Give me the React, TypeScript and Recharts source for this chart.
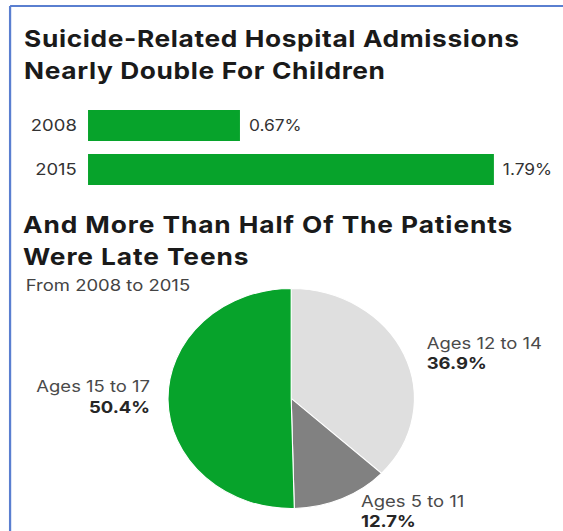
import React from 'react';
import { BarChart, Bar, XAxis, YAxis, LabelList, PieChart, Pie, Cell } from 'recharts';

const years = ['2008', '2015'];
const admissionRates = [0.67, 1.79];

const ageGroups = ['Ages 12 to 14', 'Ages 5 to 11', 'Ages 15 to 17'];
const ageShares = [36.9, 12.7, 50.4];
const ageColors = ['#dfdfdf', '#818181', '#07a32b'];

const FONT = 'Inter, "Open Sans", sans-serif';
const GREEN = '#07a32b';
// the original graphic is stretched horizontally, so everything is drawn narrower and scaled in x
const STRETCH = 1.12;
const W = 563 / STRETCH;

const barData = years.map((year, i) => ({ year, rate: admissionRates[i] }));
const pieData = ageGroups.map((name, i) => ({ name, value: ageShares[i] }));

const RADIAN = Math.PI / 180;
// small hand nudges so the labels sit where the original put them
const labelNudge: Record<string, { dx: number; dy: number }> = {
  'Ages 12 to 14': { dx: 0, dy: 3 },
  'Ages 5 to 11': { dx: 8, dy: -12 },
  'Ages 15 to 17': { dx: 6, dy: -8 },
};

const renderPieLabel = (props: any) => {
  const { cx, cy, midAngle, outerRadius, name, value } = props;
  const r = outerRadius + 22;
  const nudge = labelNudge[name] || { dx: 0, dy: 0 };
  const x = cx + r * Math.cos(-midAngle * RADIAN) + nudge.dx;
  const y = cy + r * Math.sin(-midAngle * RADIAN) + nudge.dy;
  const anchor = x > cx + 5 ? 'start' : 'end';
  return (
    <text x={x} y={y} textAnchor={anchor} fontFamily={FONT} fontSize={16.5}>
      <tspan x={x} dy={0} fill="#4a4a4a">{name}</tspan>
      <tspan x={x} dy={20.5} fill="#262626" fontWeight={700}>{value}%</tspan>
    </text>
  );
};

export default function App() {
  return (
    <div style={{ position: 'absolute', left: 0, top: 0, width: 563, height: 531, background: '#fff', overflow: 'hidden' }}>
      <div
        style={{
          position: 'absolute',
          left: 0,
          top: 0,
          width: W,
          height: 531,
          transform: `scaleX(${STRETCH})`,
          transformOrigin: '0 0',
        }}
      >
        <svg width={W} height={531} style={{ position: 'absolute', left: 0, top: 0 }}>
          <line x1={9} y1={6} x2={W} y2={6} stroke="#5a7fd0" strokeWidth={2} />
          <line x1={9} y1={6} x2={9} y2={531} stroke="#5a7fd0" strokeWidth={2} />
          <g fontFamily={FONT} fontWeight={700} fill="#1a1a1a" fontSize={23.5}>
            <text x={21.5} y={47} letterSpacing={0.55}>Suicide-Related Hospital Admissions</text>
            <text x={21.5} y={79} letterSpacing={0.55}>Nearly Double For Children</text>
            <text x={20.5} y={233} letterSpacing={0.8}>And More Than Half Of The Patients</text>
            <text x={20.5} y={265} letterSpacing={0.8}>Were Late Teens</text>
          </g>
          <text x={23} y={291} fontFamily={FONT} fontSize={16.5} fill="#444">From 2008 to 2015</text>
        </svg>

        <div style={{ position: 'absolute', left: 0, top: 103 }}>
          <BarChart
            width={W}
            height={88}
            data={barData}
            layout="vertical"
            margin={{ top: 0, right: W - 441, bottom: 0, left: 0 }}
          >
            <XAxis type="number" hide domain={[0, 'dataMax']} />
            <YAxis
              type="category"
              dataKey="year"
              width={78.6}
              axisLine={false}
              tickLine={false}
              tickSize={0}
              tickMargin={10}
              tick={{ fontSize: 16.5, fill: '#333', fontFamily: FONT }}
            />
            <Bar dataKey="rate" fill={GREEN} barSize={31} isAnimationActive={false}>
              <LabelList
                dataKey="rate"
                position="right"
                offset={8}
                formatter={(v: any) => `${v}%`}
                style={{ fontSize: 15.5, fill: '#333', fontFamily: FONT }}
              />
            </Bar>
          </BarChart>
        </div>

        <div style={{ position: 'absolute', left: 0, top: 280 }}>
          <PieChart width={W} height={251} margin={{ top: 0, right: 0, bottom: 0, left: 0 }}>
            <Pie
              data={pieData}
              dataKey="value"
              nameKey="name"
              cx={260}
              cy={118.5}
              outerRadius={110}
              startAngle={90}
              endAngle={-270}
              stroke="#fff"
              strokeWidth={1}
              label={renderPieLabel}
              labelLine={false}
              isAnimationActive={false}
            >
              {pieData.map((d, i) => (
                <Cell key={d.name} fill={ageColors[i]} />
              ))}
            </Pie>
          </PieChart>
        </div>
      </div>
    </div>
  );
}
